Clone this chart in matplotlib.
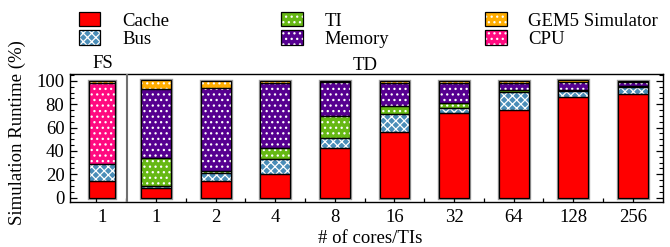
import matplotlib
matplotlib.use("Agg")
import matplotlib.pyplot as plt
from matplotlib.patches import Patch
from matplotlib.ticker import MultipleLocator, FixedLocator
import numpy as np

plt.rcParams['font.family'] = ['Liberation Serif', 'DejaVu Serif']
plt.rcParams['hatch.linewidth'] = 0.9

# ---------------- data ----------------
tick_labels = ['1', '1', '2', '4', '8', '16', '32', '64', '128', '256']
group_labels = ['FS', 'TD']
series_names = ['Cache', 'Bus', 'TI', 'Memory', 'CPU', 'GEM5 Simulator']
cache  = [14.3, 8.5, 14.3, 20.0, 42.3, 56.6, 72.8, 75.0, 86.0, 88.6]
bus    = [14.3, 1.5, 7.2, 13.2, 9.1, 14.9, 3.8, 15.9, 5.7, 6.5]
ti     = [0.0, 24.0, 1.0, 9.7, 18.6, 7.1, 4.3, 1.5, 1.0, 1.0]
memory = [0.0, 58.8, 71.8, 55.7, 28.9, 19.4, 17.7, 6.3, 6.7, 3.0]
cpu    = [69.9, 0.0, 0.0, 0.0, 0.0, 0.0, 0.0, 0.0, 0.0, 0.0]
gem5   = [1.5, 7.7, 5.7, 1.4, 1.1, 2.0, 1.4, 1.4, 1.6, 0.9]

colors = {'Cache': '#ff0000', 'Bus': '#4a8db8', 'TI': '#66b814',
          'Memory': '#560090', 'CPU': '#ff0a80', 'GEM5 Simulator': '#ffad00'}
hatches = {'Cache': None, 'Bus': 'xxxx', 'TI': '...', 'Memory': '...',
           'CPU': '...', 'GEM5 Simulator': '...'}
values = {'Cache': cache, 'Bus': bus, 'TI': ti, 'Memory': memory,
          'CPU': cpu, 'GEM5 Simulator': gem5}

# ---------------- layout ----------------
W, H = 670, 247
fig = plt.figure(figsize=(W / 100, H / 100), dpi=100)
ax = fig.add_axes([70 / W, 1 - 202.3 / H, (662.7 - 70) / W, (202.3 - 74) / H])

x = np.array([0.094] + list(range(1, 10)), dtype=float)
widths = np.array([0.436] + [0.5] * 9)

bottom = np.zeros(len(x))
totals = np.sum([values[n] for n in series_names], axis=0)
# gray outline around each bar
ax.bar(x, totals, width=widths, bottom=0, facecolor='none',
       edgecolor='#9a9a9a', linewidth=2.4, zorder=1)

for name in series_names:
    v = np.array(values[name], dtype=float)
    m = v > 0
    ax.bar(x[m], v[m], width=widths[m], bottom=bottom[m],
           color=colors[name], edgecolor='white', linewidth=0,
           hatch=hatches[name], zorder=2)
    ax.bar(x[m], v[m], width=widths[m], bottom=bottom[m],
           facecolor='none', edgecolor='black', linewidth=0.9, zorder=3)
    bottom = bottom + v

ax.axvline(0.508, color='#707070', linewidth=1.5, zorder=4)

ax.set_xlim(-0.443, 9.5)
ax.set_ylim(-4, 106)

ax.set_xticks(x)
ax.set_xticklabels(tick_labels, fontsize=13.5)
ax.xaxis.set_minor_locator(FixedLocator([0.0, 0.5] + [i + 0.5 for i in range(1, 9)]))
ax.get_xticklines()[0].set_visible(False)
ax.set_yticks([0, 20, 40, 60, 80, 100])
ax.set_yticklabels(['0', '20', '40', '60', '80', '100'], fontsize=13.5)
ax.yaxis.set_minor_locator(MultipleLocator(5))
ax.tick_params(axis='x', which='major', direction='in', length=5.5, width=0.9, pad=5, top=False)
ax.tick_params(axis='x', which='minor', direction='in', length=3, width=0.9, top=False)
ax.tick_params(axis='y', which='major', direction='in', length=5, width=0.9, pad=4,
               left=True, right=True)
ax.tick_params(axis='y', which='minor', direction='in', length=3, width=0.8,
               left=True, right=True)
for s in ax.spines.values():
    s.set_linewidth(1.0)

fig.text(370 / W, (H - 243) / H, '# of cores/TIs', ha='center', va='baseline', fontsize=13.5)
fig.text(17.5 / W, 1 - 133 / H, 'Simulation Runtime (%)', rotation=90,
         ha='center', va='center', fontsize=13.5)
fig.text(102.7 / W, 1 - 63.5 / H, group_labels[0], ha='center', va='center', fontsize=13.5)
fig.text(365 / W, 1 - 65 / H, group_labels[1], ha='center', va='center', fontsize=13.5)

# ---------------- legend ----------------
def handle(name):
    fill = Patch(facecolor=colors[name], edgecolor='white', linewidth=0,
                 hatch=hatches[name])
    edge = Patch(facecolor='none', edgecolor='black', linewidth=0.9)
    return (fill, edge)

columns = [(['Cache', 'Bus'], 78.5), (['TI', 'Memory'], 281),
           (['GEM5 Simulator', 'CPU'], 485)]
for names, xpx in columns:
    fig.legend([handle(n) for n in names], names, loc='center left',
               bbox_to_anchor=(xpx / W, 1 - 30 / H), frameon=False,
               fontsize=13.5, handlelength=1.15, handleheight=0.83,
               handletextpad=1.17, labelspacing=0.05, borderpad=0,
               borderaxespad=0)

fig.savefig('out.png', dpi=100)
